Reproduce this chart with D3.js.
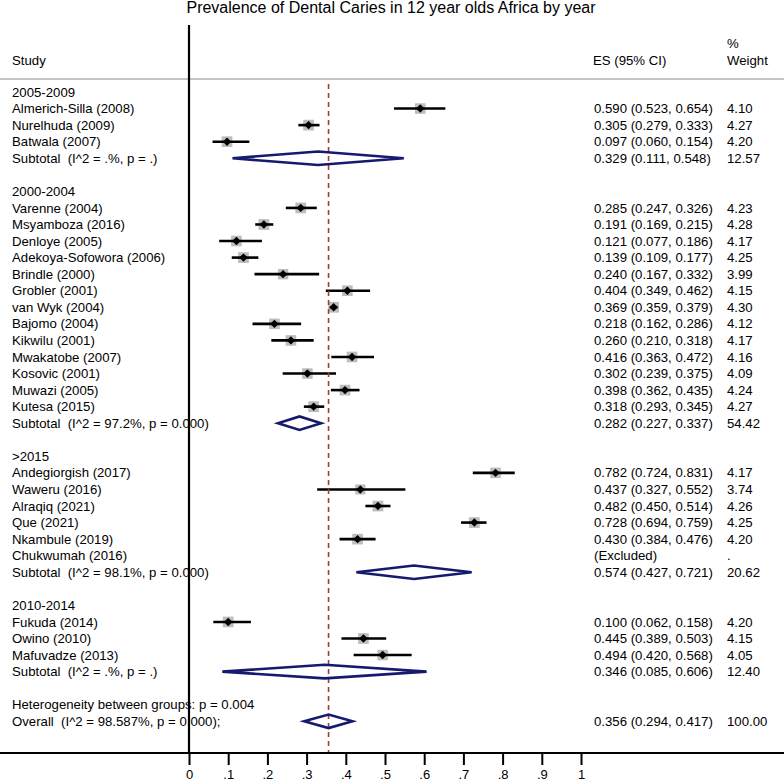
<!DOCTYPE html>
<html>
<head>
<meta charset="utf-8">
<script src="https://d3js.org/d3.v7.min.js"></script>
<style>
  body { margin: 0; background: #fff; }
  text { font-family: "Liberation Sans", Arial, sans-serif; font-size: 13.2px; fill: #000; white-space: pre; }
  .title { font-size: 16px; }
  .axis text { font-size: 13px; }
</style>
</head>
<body>
<script>
  // ---- data ----
  var groups = ["2005-2009", "2000-2004", ">2015", "2010-2014"];

  var studies = [
    "Almerich-Silla (2008)", "Nurelhuda (2009)", "Batwala (2007)",
    "Varenne (2004)", "Msyamboza (2016)", "Denloye (2005)", "Adekoya-Sofowora (2006)",
    "Brindle (2000)", "Grobler (2001)", "van Wyk (2004)", "Bajomo (2004)", "Kikwilu (2001)",
    "Mwakatobe (2007)", "Kosovic (2001)", "Muwazi (2005)", "Kutesa (2015)",
    "Andegiorgish (2017)", "Waweru (2016)", "Alraqiq (2021)", "Que (2021)",
    "Nkambule (2019)", "Chukwumah (2016)",
    "Fukuda (2014)", "Owino (2010)", "Mafuvadze (2013)"
  ];
  var studyGroup = [0, 0, 0, 1, 1, 1, 1, 1, 1, 1, 1, 1, 1, 1, 1, 1, 2, 2, 2, 2, 2, 2, 3, 3, 3];
  var es     = [0.590, 0.305, 0.097, 0.285, 0.191, 0.121, 0.139, 0.240, 0.404, 0.369, 0.218, 0.260, 0.416, 0.302, 0.398, 0.318, 0.782, 0.437, 0.482, 0.728, 0.430, null, 0.100, 0.445, 0.494];
  var lo     = [0.523, 0.279, 0.060, 0.247, 0.169, 0.077, 0.109, 0.167, 0.349, 0.359, 0.162, 0.210, 0.363, 0.239, 0.362, 0.293, 0.724, 0.327, 0.450, 0.694, 0.384, null, 0.062, 0.389, 0.420];
  var hi     = [0.654, 0.333, 0.154, 0.326, 0.215, 0.186, 0.177, 0.332, 0.462, 0.379, 0.286, 0.318, 0.472, 0.375, 0.435, 0.345, 0.831, 0.552, 0.514, 0.759, 0.476, null, 0.158, 0.503, 0.568];
  var weight = [4.10, 4.27, 4.20, 4.23, 4.28, 4.17, 4.25, 3.99, 4.15, 4.30, 4.12, 4.17, 4.16, 4.09, 4.24, 4.27, 4.17, 3.74, 4.26, 4.25, 4.20, null, 4.20, 4.15, 4.05];

  var subLabel  = ["Subtotal  (I^2 = .%, p = .)", "Subtotal  (I^2 = 97.2%, p = 0.000)", "Subtotal  (I^2 = 98.1%, p = 0.000)", "Subtotal  (I^2 = .%, p = .)"];
  var subEs     = [0.329, 0.282, 0.574, 0.346];
  var subLo     = [0.111, 0.227, 0.427, 0.085];
  var subHi     = [0.548, 0.337, 0.721, 0.606];
  var subWeight = [12.57, 54.42, 20.62, 12.40];

  var hetLabel = "Heterogeneity between groups: p = 0.004";
  var overallLabel = "Overall  (I^2 = 98.587%, p = 0.000);";
  var overall = {es: 0.356, lo: 0.294, hi: 0.417, w: 100.00};

  var tickValues = [0, 0.1, 0.2, 0.3, 0.4, 0.5, 0.6, 0.7, 0.8, 0.9, 1];
  var tickLabels = ["0", ".1", ".2", ".3", ".4", ".5", ".6", ".7", ".8", ".9", "1"];

  // ---- build rows ----
  var rows = [];
  groups.forEach(function(g, gi) {
    rows.push({type: "head", label: g});
    studies.forEach(function(s, i) {
      if (studyGroup[i] === gi) rows.push({type: "study", label: s, es: es[i], lo: lo[i], hi: hi[i], w: weight[i]});
    });
    rows.push({type: "sub", label: subLabel[gi], es: subEs[gi], lo: subLo[gi], hi: subHi[gi], w: subWeight[gi]});
    rows.push({type: "blank"});
  });
  rows.push({type: "head", label: hetLabel});
  rows.push({type: "sub", label: overallLabel, es: overall.es, lo: overall.lo, hi: overall.hi, w: overall.w});
  rows.forEach(function(r, i) { r.i = i; });

  var W = 784, H = 783;
  var svg = d3.select("body").append("svg").attr("width", W).attr("height", H);

  var x = d3.scaleLinear().domain([0, 1]).range([189, 581]);
  var y = d3.scaleLinear().domain([0, rows.length - 1]).range([92, 721.3]);
  var axisY = 753;

  var f3 = d3.format(".3f"), f2 = d3.format(".2f");
  var ciText = function(d) {
    if (d.es == null) return "(Excluded)";
    return f3(d.es) + " (" + f3(d.lo) + ", " + f3(d.hi) + ")";
  };

  // title and header
  svg.append("text").attr("class", "title").attr("x", 391).attr("y", 13)
    .attr("text-anchor", "middle").text("Prevalence of Dental Caries in 12 year olds Africa by year");
  svg.append("text").attr("x", 12).attr("y", 65).text("Study");
  svg.append("text").attr("x", 593).attr("y", 65).text("ES (95% CI)");
  svg.append("text").attr("x", 727).attr("y", 48).text("%");
  svg.append("text").attr("x", 727).attr("y", 65).text("Weight");

  svg.append("line").attr("x1", 0).attr("x2", W).attr("y1", 79).attr("y2", 79)
    .attr("stroke", "#c4c4c4").attr("stroke-width", 2);

  // row texts
  var txt = svg.append("g").selectAll("g").data(rows.filter(function(r) { return r.type !== "blank"; }))
    .enter().append("g").attr("transform", function(d) { return "translate(0," + (y(d.i) + 4.6) + ")"; });
  txt.append("text").attr("x", 12).text(function(d) { return d.label; });
  txt.filter(function(d) { return d.type !== "head"; }).append("text").attr("x", 594).text(ciText);
  txt.filter(function(d) { return d.type !== "head"; }).append("text").attr("x", 727)
    .text(function(d) { return d.w == null ? "." : f2(d.w); });

  // study markers
  var pts = rows.filter(function(r) { return r.type === "study" && r.es != null; });
  var m = svg.append("g");
  m.selectAll(".box").data(pts).enter().append("rect")
    .attr("fill", "#bdbdbd")
    .attr("x", function(d) { return x(d.es) - 2.6 * Math.sqrt(d.w); })
    .attr("y", function(d) { return y(d.i) - 2.6 * Math.sqrt(d.w); })
    .attr("width", function(d) { return 5.2 * Math.sqrt(d.w); })
    .attr("height", function(d) { return 5.2 * Math.sqrt(d.w); });
  m.selectAll(".ci").data(pts).enter().append("line")
    .attr("stroke", "#000").attr("stroke-width", 2.6)
    .attr("x1", function(d) { return x(d.lo); }).attr("x2", function(d) { return x(d.hi); })
    .attr("y1", function(d) { return y(d.i); }).attr("y2", function(d) { return y(d.i); });
  m.selectAll(".pt").data(pts).enter().append("path")
    .attr("fill", "#000")
    .attr("d", function(d) {
      var cx = x(d.es), cy = y(d.i), r = 4.2;
      return "M" + (cx - r) + "," + cy + "L" + cx + "," + (cy - r) + "L" + (cx + r) + "," + cy + "L" + cx + "," + (cy + r) + "Z";
    });

  // overall dashed line
  svg.append("line").attr("x1", x(overall.es)).attr("x2", x(overall.es))
    .attr("y1", 84).attr("y2", axisY)
    .attr("stroke", "#a03c3c").attr("stroke-width", 1.6).attr("stroke-dasharray", "5,4");

  // pooled diamonds
  var subs = rows.filter(function(r) { return r.type === "sub"; });
  svg.append("g").selectAll("path").data(subs).enter().append("path")
    .attr("fill", "none").attr("stroke", "#151a6e").attr("stroke-width", 2.6).attr("stroke-linejoin", "miter")
    .attr("d", function(d) {
      var cy = y(d.i), h = 6.8;
      return "M" + x(d.lo) + "," + cy + "L" + x(d.es) + "," + (cy - h) + "L" + x(d.hi) + "," + cy + "L" + x(d.es) + "," + (cy + h) + "Z";
    });

  // axis
  var ax = svg.append("g").attr("class", "axis").attr("transform", "translate(0," + axisY + ")")
    .call(d3.axisBottom(x).tickValues(tickValues).tickSize(12).tickPadding(5)
      .tickFormat(function(d, i) { return tickLabels[i]; }));
  ax.select(".domain").remove();
  ax.selectAll(".tick line").attr("stroke", "#000").attr("stroke-width", 2);
  ax.selectAll("text").attr("fill", "#000").attr("font-family", null).attr("font-size", null);

  svg.append("line").attr("x1", 0).attr("x2", W).attr("y1", axisY).attr("y2", axisY)
    .attr("stroke", "#000").attr("stroke-width", 2);
  svg.append("line").attr("x1", 189).attr("x2", 189).attr("y1", 25).attr("y2", axisY)
    .attr("stroke", "#000").attr("stroke-width", 2.2);
</script>
</body>
</html>
